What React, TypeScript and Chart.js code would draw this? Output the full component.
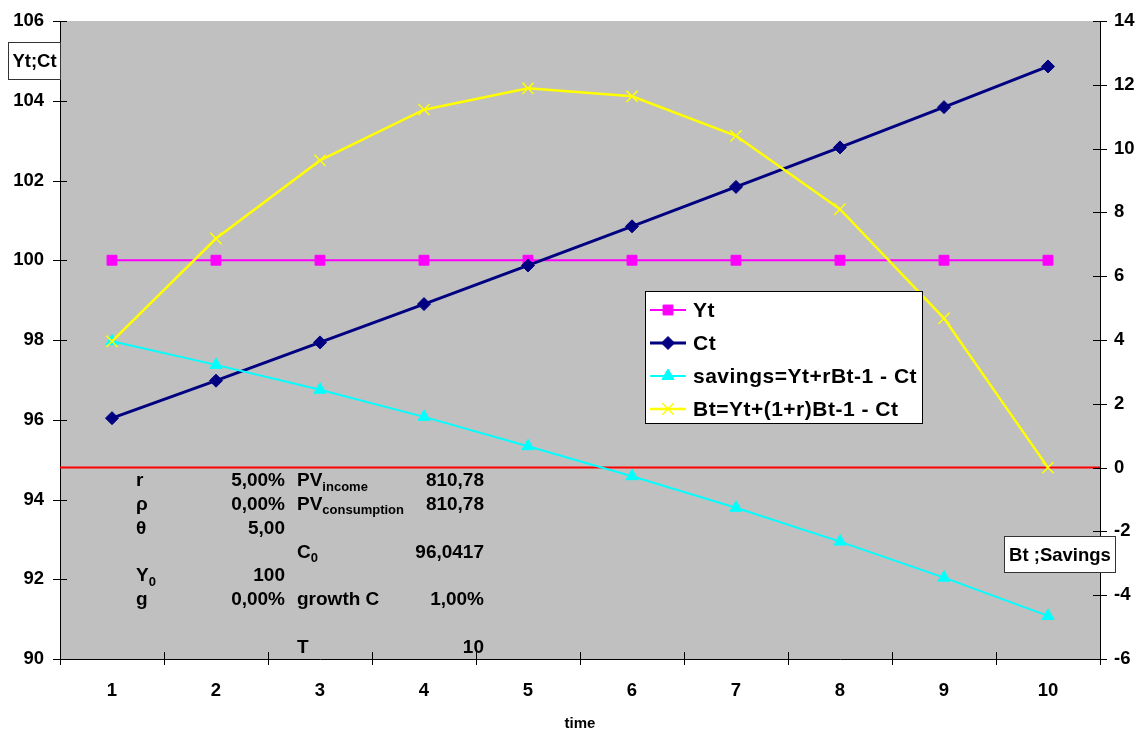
import React, { useEffect, useRef } from "react";
import { Chart, registerables } from "chart.js";
import { drawPoint } from "chart.js/helpers";

Chart.register(...registerables);

// Periods on the time axis
const periods = ["1", "2", "3", "4", "5", "6", "7", "8", "9", "10"];

// Income and consumption (left axis)
const incomeY = [100, 100, 100, 100, 100, 100, 100, 100, 100, 100];
const consumptionC = [96.04, 96.98, 97.94, 98.9, 99.87, 100.85, 101.84, 102.83, 103.84, 104.86];

// Savings and wealth (right axis)
const savings = [3.96, 3.22, 2.44, 1.59, 0.67, -0.27, -1.26, -2.32, -3.45, -4.65];
const wealthB = [3.96, 7.18, 9.63, 11.22, 11.89, 11.64, 10.4, 8.1, 4.68, 0.0];

// Axis ranges
const leftMin = 90;
const leftMax = 106;
const rightMin = -6;
const rightMax = 14;
const axisStep = 2;

// Series labels
const seriesLabels = ["Yt", "Ct", "savings=Yt+rBt-1 - Ct", "Bt=Yt+(1+r)Bt-1 - Ct"];

// Parameter table: label, label subscript, value, name, name subscript, amount
const paramLabels = ["r", "ρ", "θ", "", "Y", "g", "", ""];
const paramLabelSubs = ["", "", "", "", "0", "", "", ""];
const paramValues = ["5,00%", "0,00%", "5,00", "", "100", "0,00%", "", ""];
const paramNames = ["PV", "PV", "", "C", "", "growth C", "", "T"];
const paramNameSubs = ["income", "consumption", "", "0", "", "", "", ""];
const paramAmounts = ["810,78", "810,78", "", "96,0417", "", "1,00%", "", "10"];

const FONT = '"Liberation Sans", Arial, sans-serif';
const PLOT_BG = "#C0C0C0";
const AXIS_COLOR = "#000000";

const colors = {
  income: "#FF00FF",
  consumption: "#000080",
  savings: "#00FFFF",
  wealth: "#FFFF00",
};

const pointStyles = ["rect", "rectRot", "triangle", "crossRot"];
const seriesColors = [colors.income, colors.consumption, colors.savings, colors.wealth];
const pointRadii = [7, 6.5, 7, 8];
const lineWidths = [2, 3, 2, 2.5];

function drawBoxText(ctx: CanvasRenderingContext2D, text: string, x: number, y: number, w: number, h: number, size: number) {
  ctx.save();
  ctx.fillStyle = "#FFFFFF";
  ctx.fillRect(x, y, w, h);
  ctx.strokeStyle = "#333333";
  ctx.lineWidth = 1;
  ctx.strokeRect(x + 0.5, y + 0.5, w - 1, h - 1);
  ctx.fillStyle = "#000000";
  ctx.font = `bold ${size}px ${FONT}`;
  ctx.textAlign = "center";
  ctx.textBaseline = "middle";
  ctx.fillText(text, x + w / 2, y + h / 2 + 1);
  ctx.restore();
}

function drawWithSub(ctx: CanvasRenderingContext2D, main: string, sub: string, x: number, y: number) {
  ctx.font = `bold 19px ${FONT}`;
  ctx.textAlign = "left";
  ctx.textBaseline = "middle";
  ctx.fillText(main, x, y);
  if (sub) {
    const w = ctx.measureText(main).width;
    ctx.font = `bold 13px ${FONT}`;
    ctx.fillText(sub, x + w, y + 6);
  }
}

const overlayPlugin = {
  id: "overlay",
  beforeDraw(chart: any) {
    const { ctx, chartArea } = chart;
    ctx.save();
    ctx.fillStyle = PLOT_BG;
    ctx.fillRect(chartArea.left, chartArea.top, chartArea.right - chartArea.left, chartArea.bottom - chartArea.top);
    ctx.restore();
  },
  beforeDatasetsDraw(chart: any) {
    const { ctx, chartArea, scales } = chart;
    const y0 = scales.y1.getPixelForValue(0);
    ctx.save();
    ctx.strokeStyle = "#FF0000";
    ctx.lineWidth = 2;
    ctx.beginPath();
    ctx.moveTo(chartArea.left, y0);
    ctx.lineTo(chartArea.right, y0);
    ctx.stroke();
    ctx.restore();
  },
  afterDraw(chart: any) {
    const { ctx, chartArea, scales } = chart;
    const { left, right, bottom } = chartArea;

    // Cross tick marks on all three axes
    ctx.save();
    ctx.strokeStyle = AXIS_COLOR;
    ctx.lineWidth = 1;
    ctx.beginPath();
    scales.y.ticks.forEach((_t: any, i: number) => {
      const p = Math.round(scales.y.getPixelForTick(i)) + 0.5;
      ctx.moveTo(left - 7, p);
      ctx.lineTo(left + 7, p);
    });
    scales.y1.ticks.forEach((_t: any, i: number) => {
      const p = Math.round(scales.y1.getPixelForTick(i)) + 0.5;
      ctx.moveTo(right - 7, p);
      ctx.lineTo(right + 7, p);
    });
    const step = scales.x.getPixelForValue(1) - scales.x.getPixelForValue(0);
    for (let i = 0; i <= periods.length; i++) {
      const p = Math.round(scales.x.getPixelForValue(i) - step / 2) + 0.5;
      ctx.moveTo(p, bottom - 7);
      ctx.lineTo(p, bottom + 6);
    }
    ctx.stroke();
    ctx.restore();

    // Parameter table inside the plot
    ctx.save();
    ctx.fillStyle = "#000000";
    const rowTop = 481;
    const rowGap = 23.8;
    paramLabels.forEach((_l, i) => {
      const y = rowTop + i * rowGap;
      drawWithSub(ctx, paramLabels[i], paramLabelSubs[i], 136, y);
      ctx.font = `bold 19px ${FONT}`;
      ctx.textAlign = "right";
      ctx.fillText(paramValues[i], 285, y);
      drawWithSub(ctx, paramNames[i], paramNameSubs[i], 297, y);
      ctx.font = `bold 19px ${FONT}`;
      ctx.textAlign = "right";
      ctx.fillText(paramAmounts[i], 484, y);
    });
    ctx.restore();

    // Legend box
    const lx = 645;
    const ly = 291;
    const lw = 278;
    const lh = 133;
    ctx.save();
    ctx.fillStyle = "#FFFFFF";
    ctx.fillRect(lx, ly, lw, lh);
    ctx.strokeStyle = "#000000";
    ctx.lineWidth = 1;
    ctx.strokeRect(lx + 0.5, ly + 0.5, lw - 1, lh - 1);
    seriesLabels.forEach((label, i) => {
      const cy = ly + 19 + i * 33;
      ctx.strokeStyle = seriesColors[i];
      ctx.lineWidth = lineWidths[i];
      ctx.beginPath();
      ctx.moveTo(lx + 5, cy);
      ctx.lineTo(lx + 41, cy);
      ctx.stroke();
      ctx.fillStyle = seriesColors[i];
      ctx.lineWidth = i === 3 ? 1.5 : 1;
      drawPoint(ctx, { pointStyle: pointStyles[i], radius: pointRadii[i], rotation: 0, borderWidth: 1 } as any, lx + 23, cy);
      ctx.fillStyle = "#000000";
      ctx.font = `bold 21px ${FONT}`;
      (ctx as any).letterSpacing = "0.5px";
      ctx.textAlign = "left";
      ctx.textBaseline = "middle";
      ctx.fillText(label, lx + 48, cy + 1);
      (ctx as any).letterSpacing = "0px";
    });
    ctx.restore();

    // Axis caption boxes
    drawBoxText(ctx, "Yt;Ct", 8, 42, 53, 38, 18.5);
    drawBoxText(ctx, "Bt ;Savings", 1004, 536, 112, 37, 18.5);
  },
};

export default function App() {
  const canvasRef = useRef<HTMLCanvasElement | null>(null);

  useEffect(() => {
    if (!canvasRef.current) return;
    const makeDataset = (i: number, data: number[], axis: string) => ({
      label: seriesLabels[i],
      data,
      yAxisID: axis,
      borderColor: seriesColors[i],
      backgroundColor: seriesColors[i],
      borderWidth: lineWidths[i],
      pointStyle: pointStyles[i],
      pointRadius: pointRadii[i],
      pointBorderWidth: i === 3 ? 1.5 : 1,
      pointBackgroundColor: seriesColors[i],
      pointBorderColor: seriesColors[i],
      tension: 0,
      fill: false,
      clip: false as any,
    });

    const tickFont = { family: FONT, size: 18.5, weight: "bold" };
    const noVerticalPadding = (scale: any) => {
      scale.paddingTop = 0;
      scale.paddingBottom = 0;
    };

    const chart = new Chart(canvasRef.current, {
      type: "line",
      data: {
        labels: periods,
        datasets: [
          makeDataset(3, wealthB, "y1"),
          makeDataset(2, savings, "y1"),
          makeDataset(1, consumptionC, "y"),
          makeDataset(0, incomeY, "y"),
        ],
      },
      options: {
        responsive: false,
        animation: false,
        devicePixelRatio: 1,
        layout: { padding: { top: 21, left: 0, right: 0, bottom: 0 } },
        plugins: {
          legend: { display: false },
          tooltip: { enabled: false },
        },
        scales: {
          x: {
            type: "category",
            offset: true,
            grid: { display: false, drawTicks: false },
            border: { display: true, color: AXIS_COLOR, width: 1 },
            ticks: {
              color: "#000000",
              font: tickFont,
              padding: 21,
              maxRotation: 0,
            },
            title: {
              display: true,
              text: "time",
              color: "#000000",
              font: { family: FONT, size: 15, weight: "bold" },
              padding: { top: 0, bottom: -3 },
            },
            afterFit(scale: any) {
              scale.height = 71;
            },
          },
          y: {
            position: "left",
            min: leftMin,
            max: leftMax,
            grid: { display: false, drawTicks: false },
            border: { display: true, color: AXIS_COLOR, width: 1 },
            ticks: {
              stepSize: axisStep,
              color: "#000000",
              font: tickFont,
              padding: 16,
            },
            afterFit(scale: any) {
              scale.width = 60;
              noVerticalPadding(scale);
            },
          },
          y1: {
            position: "right",
            min: rightMin,
            max: rightMax,
            grid: { display: false, drawTicks: false },
            border: { display: true, color: AXIS_COLOR, width: 1 },
            ticks: {
              stepSize: axisStep,
              color: "#000000",
              font: tickFont,
              padding: 14,
            },
            afterFit(scale: any) {
              scale.width = 36;
              noVerticalPadding(scale);
            },
          },
        },
      } as any,
      plugins: [overlayPlugin],
    });
    return () => chart.destroy();
  }, []);

  return (
    <div style={{ position: "absolute", left: 0, top: 0, width: 1136, height: 730, background: "#FFFFFF" }}>
      <canvas ref={canvasRef} width={1136} height={730} style={{ width: 1136, height: 730 }} />
    </div>
  );
}
